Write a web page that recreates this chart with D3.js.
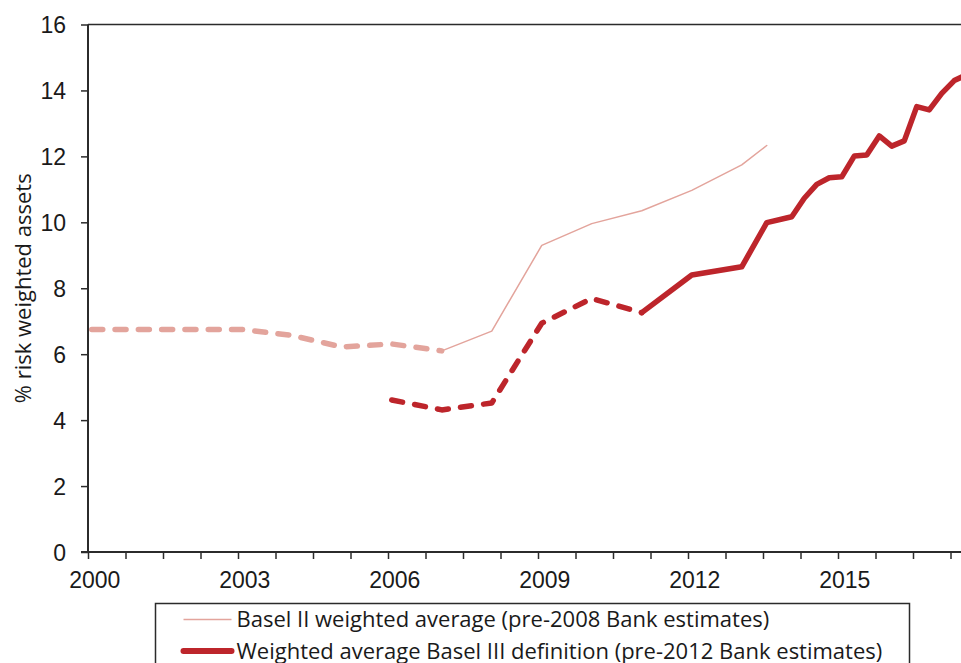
<!DOCTYPE html>
<html>
<head>
<meta charset="utf-8">
<script src="https://cdn.jsdelivr.net/npm/d3@7"></script>
<style>
  html, body { margin: 0; padding: 0; background: #fff; }
  svg { display: block; font-family: "Open Sans", "Noto Sans", sans-serif; }
</style>
</head>
<body>
<svg id="chart" width="961" height="663"></svg>
<script>
// Capital ratios, % of risk-weighted assets, by quarter
const basel2EstPeriods = ["2000Q1", "2001Q1", "2002Q1", "2003Q1", "2004Q1", "2005Q1", "2006Q1", "2007Q1"];
const basel2EstValues  = [6.75, 6.75, 6.75, 6.75, 6.57, 6.22, 6.31, 6.10];

const basel2Periods = ["2007Q1", "2008Q1", "2009Q1", "2010Q1", "2011Q1", "2012Q1", "2013Q1", "2013Q3"];
const basel2Values  = [6.10, 6.70, 9.30, 9.96, 10.35, 10.97, 11.74, 12.33];

const basel3EstPeriods = ["2006Q1", "2007Q1", "2008Q1", "2009Q1", "2010Q1", "2011Q1"];
const basel3EstValues  = [4.61, 4.31, 4.52, 6.94, 7.69, 7.26];

const basel3Periods = ["2011Q1", "2012Q1", "2013Q1", "2013Q3", "2014Q1", "2014Q2", "2014Q3", "2014Q4",
                       "2015Q1", "2015Q2", "2015Q3", "2015Q4", "2016Q1", "2016Q2", "2016Q3", "2016Q4",
                       "2017Q1", "2017Q2", "2017Q3"];
const basel3Values  = [7.26, 8.40, 8.65, 9.99, 10.17, 10.73, 11.15, 11.35,
                       11.38, 12.01, 12.04, 12.62, 12.31, 12.47, 13.51, 13.41,
                       13.91, 14.30, 14.48];

const yTicks = [0, 2, 4, 6, 8, 10, 12, 14, 16];
const xLabelYears = [2000, 2003, 2006, 2009, 2012, 2015];

const legendLabels = [
  "Basel II weighted average (pre-2008 Bank estimates)",
  "Weighted average Basel III definition (pre-2012 Bank estimates)"
];

const BASE_YEAR = 2000;
const quarterIndex = p => (+p.slice(0, 4) - BASE_YEAR) * 4 + (+p.slice(5) - 1);
const toPoints = (periods, values) => periods.map((p, i) => ({ q: quarterIndex(p), v: values[i] }));

const lightRed = "#e3a49c";
const darkRed = "#bd252b";
const axisColor = "#2b2b2b";
const textColor = "#1a1a1a";

const svg = d3.select("#chart");
const margin = { left: 88, top: 24.5, bottom: 552 };

// quarter index -> pixel; the visible window ends partway through 2017
const x = d3.scaleLinear().domain([0, 70]).range([margin.left, margin.left + 875]);
const y = d3.scaleLinear().domain([0, 16]).range([margin.bottom, margin.top]);
const px = d => x(d.q + 0.3);

// Axes
const yAxis = d3.axisLeft(y).tickValues(yTicks).tickSize(7).tickPadding(15).tickFormat(d3.format("d"));
const gy = svg.append("g").attr("transform", `translate(${margin.left},0)`).call(yAxis);
gy.select(".domain").remove();
gy.selectAll(".tick line").attr("stroke", axisColor).attr("stroke-width", 1.5);
gy.selectAll(".tick text").attr("fill", textColor).style("font-size", "23px").attr("dy", "0.36em");

const xTickQs = d3.range(0, 72, 3);
const xAxis = d3.axisBottom(x).tickValues(xTickQs).tickSize(7).tickPadding(13)
  .tickFormat(q => (q % 12 === 0 && xLabelYears.includes(BASE_YEAR + q / 4)) ? String(BASE_YEAR + q / 4) : "");
const gx = svg.append("g").attr("transform", `translate(0,${margin.bottom})`).call(xAxis);
gx.select(".domain").remove();
gx.selectAll(".tick line").attr("stroke", axisColor).attr("stroke-width", 1.5);
gx.selectAll(".tick text").attr("fill", textColor).style("font-size", "23px")
  .attr("x", x(0.5) - x(0));

// Frame lines: left axis, bottom axis, top border
svg.append("line").attr("x1", margin.left).attr("x2", margin.left)
  .attr("y1", margin.top).attr("y2", margin.bottom)
  .attr("stroke", axisColor).attr("stroke-width", 2);
svg.append("line").attr("x1", margin.left - 7).attr("x2", 961)
  .attr("y1", margin.bottom).attr("y2", margin.bottom)
  .attr("stroke", axisColor).attr("stroke-width", 2);
svg.append("line").attr("x1", margin.left).attr("x2", 961)
  .attr("y1", margin.top).attr("y2", margin.top)
  .attr("stroke", axisColor).attr("stroke-width", 1.5);

// Y axis title
svg.append("text")
  .attr("transform", `translate(31,${(margin.top + margin.bottom) / 2}) rotate(-90)`)
  .attr("text-anchor", "middle")
  .attr("fill", textColor)
  .style("font-size", "22px")
  .text("% risk weighted assets");

// Series: estimates dashed, reported figures solid
const line = d3.line().x(px).y(d => y(d.v));

const lines = svg.append("g").attr("fill", "none").attr("stroke-linecap", "round").attr("stroke-linejoin", "round");

lines.append("path").datum(toPoints(basel2EstPeriods, basel2EstValues))
  .attr("d", line).attr("stroke", lightRed).attr("stroke-width", 5.5)
  .attr("stroke-dasharray", "11,12.3");

lines.append("path").datum(toPoints(basel2Periods, basel2Values))
  .attr("d", line).attr("stroke", lightRed).attr("stroke-width", 1.5);

lines.append("path").datum(toPoints(basel3EstPeriods, basel3EstValues))
  .attr("d", line).attr("stroke", darkRed).attr("stroke-width", 5.5)
  .attr("stroke-dasharray", "11,12.3");

lines.append("path").datum(toPoints(basel3Periods, basel3Values))
  .attr("d", line).attr("stroke", darkRed).attr("stroke-width", 5.5);

// Legend
const legend = svg.append("g").attr("transform", "translate(155.5,603.5)");
legend.append("rect").attr("width", 754).attr("height", 80)
  .attr("fill", "#fff").attr("stroke", axisColor).attr("stroke-width", 1.5);

const legendStyles = [
  { color: lightRed, width: 1.5, cap: "butt" },
  { color: darkRed, width: 6, cap: "round" }
];
legendLabels.forEach((label, i) => {
  const row = legend.append("g").attr("transform", `translate(0,${16 + i * 31.5})`);
  row.append("line").attr("x1", 28).attr("x2", 76)
    .attr("stroke", legendStyles[i].color).attr("stroke-width", legendStyles[i].width)
    .attr("stroke-linecap", legendStyles[i].cap);
  row.append("text").attr("x", 81).attr("dy", "0.35em")
    .attr("fill", textColor).style("font-size", "22px")
    .text(label);
});
</script>
</body>
</html>
